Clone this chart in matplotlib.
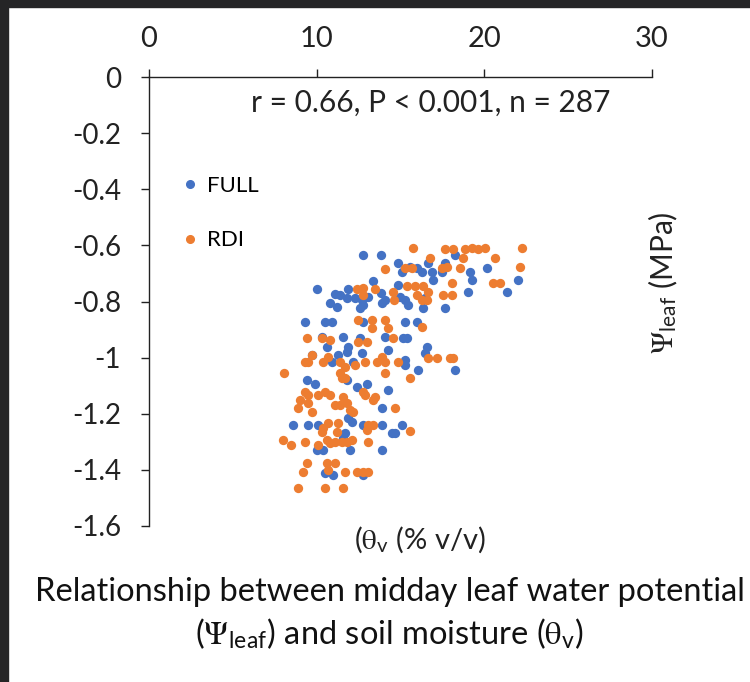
import matplotlib
matplotlib.use("Agg")
import matplotlib.pyplot as plt
from matplotlib.patches import Rectangle
from matplotlib.lines import Line2D

plt.rcParams['font.family'] = ['Lato', 'DejaVu Sans']
plt.rcParams['mathtext.fontset'] = 'stix'
plt.rcParams['axes.unicode_minus'] = False

# soil moisture (% v/v) vs midday leaf water potential (MPa)
full_x = [12.78, 13.83, 13.38, 10.00, 11.85, 11.09, 11.39, 11.79, 12.28, 12.72,
          13.08, 13.83, 14.07, 10.79, 11.19, 12.58, 12.78, 13.88, 9.30, 10.49,
          10.89, 12.78, 10.30, 11.59, 12.58, 14.07, 10.60, 11.88, 11.79, 12.68,
          14.27, 9.70, 10.89, 11.29, 12.18, 9.40, 9.90, 11.79, 12.38, 12.98,
          14.27, 11.88, 12.09, 13.88, 8.61, 9.50, 10.10, 11.69, 11.59, 12.78,
          13.88, 14.47, 10.00, 10.39, 11.99, 13.88, 10.99, 12.78, 10.49,
          18.25, 14.87, 15.07, 15.56, 15.96, 16.26, 16.66, 16.86, 17.45, 17.65,
          16.95, 19.14, 19.24, 19.04, 20.14, 21.33, 22.02, 14.87, 14.97, 15.27,
          15.46, 16.36, 16.46, 17.65, 15.27, 15.96, 15.16, 15.37, 16.56, 16.46,
          15.27, 15.27, 16.06, 18.25, 15.07, 14.67]
full_y = [-0.634, -0.634, -0.726, -0.757, -0.757, -0.773, -0.777, -0.789, -0.789, -0.795,
          -0.783, -0.771, -0.795, -0.807, -0.819, -0.824, -0.813, -0.807, -0.872, -0.872,
          -0.872, -0.872, -0.926, -0.926, -0.931, -0.926, -0.961, -0.961, -0.979, -0.985,
          -0.973, -0.991, -1.015, -0.991, -1.015, -1.080, -1.094, -1.080, -1.104, -1.094,
          -1.115, -1.216, -1.228, -1.181, -1.240, -1.240, -1.240, -1.270, -1.288, -1.240,
          -1.240, -1.270, -1.329, -1.329, -1.329, -1.329, -1.418, -1.418, -1.412,
          -0.634, -0.664, -0.694, -0.676, -0.682, -0.694, -0.664, -0.694, -0.694, -0.664,
          -0.723, -0.694, -0.723, -0.765, -0.682, -0.765, -0.723, -0.741, -0.783, -0.795,
          -0.813, -0.824, -0.789, -0.824, -0.872, -0.872, -0.931, -0.931, -0.961, -0.985,
          -1.009, -1.026, -1.044, -1.044, -1.240, -1.270]

rdi_x = [14.07, 12.38, 12.78, 13.48, 12.78, 14.57, 14.63, 12.48, 13.32, 13.28,
         14.07, 14.27, 9.40, 10.30, 10.79, 12.48, 12.98, 14.57, 9.70, 9.50,
         9.30, 10.39, 10.69, 11.39, 11.69, 12.28, 12.88, 13.58, 13.88, 14.07,
         14.07, 14.87, 8.07, 11.39, 11.49, 11.69, 9.30, 9.50, 9.00, 9.50,
         8.90, 9.70, 10.10, 10.49, 10.79, 11.59, 11.79, 11.39, 11.09, 11.99,
         12.18, 12.78, 12.88, 13.38, 13.48, 14.67, 10.69, 10.39, 10.30, 11.19,
         11.29, 13.08, 13.38, 12.98, 8.01, 8.47, 9.30, 10.10, 10.60, 10.79,
         11.09, 11.49, 11.79, 12.09, 13.08, 9.40, 9.20, 10.60, 10.69, 11.09,
         11.69, 12.38, 12.78, 13.08, 8.90, 10.49, 11.59,
         15.76, 17.65, 18.15, 18.84, 19.24, 19.64, 20.04, 22.22, 16.76, 18.74,
         20.63, 15.27, 15.66, 17.45, 17.75, 18.55, 22.12, 15.37, 15.86, 16.36,
         16.66, 18.05, 20.53, 20.93, 15.96, 16.26, 16.56, 17.55, 18.05, 16.26,
         16.66, 17.16, 17.95, 18.15, 15.56, 15.56]
rdi_y = [-0.685, -0.757, -0.753, -0.757, -0.777, -0.765, -0.795, -0.866, -0.866, -0.896,
         -0.866, -0.896, -0.931, -0.931, -0.937, -0.943, -0.943, -0.931, -0.991, -1.015,
         -1.015, -1.015, -0.997, -1.015, -1.032, -1.026, -1.015, -1.015, -0.997, -1.015,
         -1.056, -1.015, -1.054, -1.056, -1.074, -1.074, -1.121, -1.133, -1.151, -1.163,
         -1.181, -1.193, -1.133, -1.121, -1.133, -1.139, -1.163, -1.169, -1.169, -1.187,
         -1.193, -1.121, -1.133, -1.151, -1.139, -1.181, -1.234, -1.252, -1.264, -1.264,
         -1.234, -1.240, -1.240, -1.258, -1.294, -1.311, -1.300, -1.311, -1.294, -1.306,
         -1.300, -1.300, -1.300, -1.294, -1.300, -1.377, -1.407, -1.377, -1.401, -1.377,
         -1.407, -1.407, -1.407, -1.407, -1.466, -1.466, -1.466,
         -0.608, -0.613, -0.613, -0.613, -0.608, -0.613, -0.611, -0.608, -0.644, -0.644,
         -0.644, -0.682, -0.682, -0.682, -0.676, -0.682, -0.676, -0.744, -0.744, -0.744,
         -0.765, -0.735, -0.735, -0.735, -0.777, -0.795, -0.795, -0.777, -0.777, -0.890,
         -1.003, -1.003, -1.003, -1.003, -1.074, -1.262]

x_ticks = [0, 10, 20, 30]
y_ticks = [0, -0.2, -0.4, -0.6, -0.8, -1.0, -1.2, -1.4, -1.6]
y_tick_labels = ['0', '-0.2', '-0.4', '-0.6', '-0.8', '-1', '-1.2', '-1.4', '-1.6']

blue = '#4472C4'
orange = '#ED7D31'

fig = plt.figure(figsize=(7.5, 6.82), dpi=100)
fig.patch.set_facecolor('white')
# dark window edge seen in the screenshot
fig.patches.append(Rectangle((0, 1 - 7 / 682), 1, 7 / 682, transform=fig.transFigure,
                             color='#252526', zorder=0))
fig.patches.append(Rectangle((0, 0), 8 / 750, 1, transform=fig.transFigure,
                             color='#252526', zorder=0))

ax = fig.add_axes([149 / 750, 1 - 526 / 682, 503 / 750, 449 / 682])
ax.scatter(full_x, full_y, s=45, color=blue, linewidths=0, zorder=3)
ax.scatter(rdi_x, rdi_y, s=45, color=orange, linewidths=0, zorder=4)

ax.set_xlim(0, 30)
ax.set_ylim(-1.6, 0)
ax.set_xticks(x_ticks)
ax.set_yticks(y_ticks)
ax.set_yticklabels(y_tick_labels)
ax.xaxis.tick_top()
for s in ['right', 'bottom']:
    ax.spines[s].set_visible(False)
for s in ['left', 'top']:
    ax.spines[s].set_color('#222222')
    ax.spines[s].set_linewidth(1.0)
ax.tick_params(axis='x', direction='out', length=6, width=1, pad=12,
               labelsize=21, colors='#222222')
ax.tick_params(axis='y', direction='out', length=6, width=1, pad=14,
               labelsize=20, colors='#222222')

handles = [Line2D([], [], marker='o', linestyle='', color=blue, markersize=5.5, label='FULL'),
           Line2D([], [], marker='o', linestyle='', color=orange, markersize=5.5, label='RDI')]
fig.legend(handles=handles, loc='upper left', bbox_to_anchor=(184 / 750, 1 - 176 / 682),
           frameon=False, fontsize=16, borderpad=0, borderaxespad=0,
           handlelength=0.5, handletextpad=0.55, labelspacing=1.55)

fig.text(431 / 750, 1 - 103 / 682, 'r = 0.66, P < 0.001, n = 287',
         ha='center', va='center', fontsize=21.5, color='#222222')
fig.text(663 / 750, 1 - 283 / 682, r'$\Psi_{\mathregular{leaf}}$ (MPa)',
         rotation=90, ha='center', va='center', fontsize=21.5, color='#222222')
fig.text(420 / 750, 1 - 540 / 682, r'($\mathrm{\theta}_{\mathregular{v}}$ (% v/v)',
         ha='center', va='center', fontsize=21, color='#222222')

fig.text(390 / 750, 1 - 592 / 682, 'Relationship between midday leaf water potential',
         ha='center', va='center', fontsize=23.5, color='#111111')
fig.text(390 / 750, 1 - 634 / 682,
         r'($\Psi_{\mathregular{leaf}}$) and soil moisture ($\mathrm{\theta}_{\mathregular{v}}$)',
         ha='center', va='center', fontsize=23.5, color='#111111')

fig.savefig('out.png', dpi=100)
